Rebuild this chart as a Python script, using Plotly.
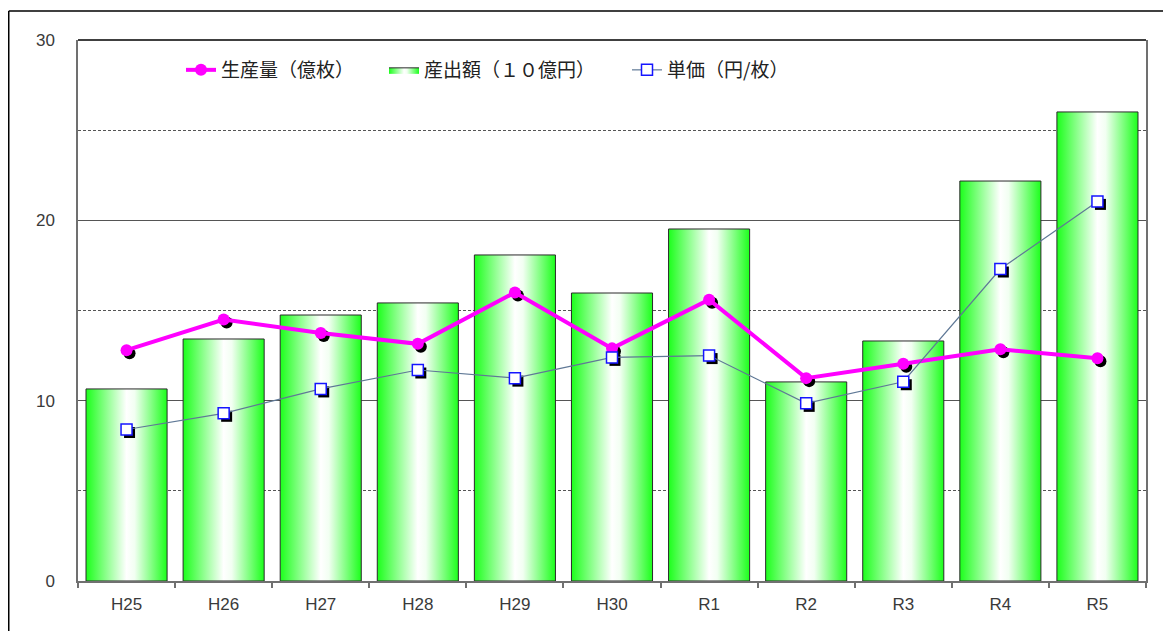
import plotly.graph_objects as go

categories = ["H25", "H26", "H27", "H28", "H29", "H30", "R1", "R2", "R3", "R4", "R5"]
production = [12.8, 14.5, 13.75, 13.15, 16.0, 12.9, 15.6, 11.25, 12.05, 12.85, 12.35]   # 生産量(億枚)
output_value = [10.65, 13.42, 14.75, 15.42, 18.08, 15.97, 19.52, 11.04, 13.31, 22.18, 26.01]  # 産出額(10億円)
unit_price = [8.4, 9.3, 10.65, 11.7, 11.25, 12.4, 12.5, 9.85, 11.05, 17.3, 21.05]  # 単価(円/枚)
y_ticks = [0, 10, 20, 30]

# page body has an 8px margin; figure fills the rest of the window
W, H = 1163, 623
ML, MR, MT, MB = 70, 25, 32, 50
pw, ph = W - ML - MR, H - MT - MB
xr = [-0.5, len(categories) - 0.5]
yr = [0, 30]
# shadow offsets (3px) converted to data units
sdx = 3 * (xr[1] - xr[0]) / pw
sdy = 3 * (yr[1] - yr[0]) / ph

bar_w = 0.835
grad = [[0, "#1cff1c"], [0.5, "#ffffff"], [0.6, "#f2fff2"], [1, "#1cff1c"]]
font = "Noto Sans CJK JP"
tick_font = "Liberation Sans"


def px_x(px):
    return (px - ML) / pw


def px_y(py):
    return (H - MB - py) / ph


fig = go.Figure()
xs_idx = list(range(len(categories)))

for i, v in enumerate(output_value):
    x0, x1 = i - bar_w / 2, i + bar_w / 2
    fig.add_trace(go.Scatter(
        x=[x0, x1, x1, x0, x0], y=[0, 0, v, v, 0],
        fill="toself", mode="lines",
        line=dict(color="#2a2a2a", width=1),
        fillgradient=dict(type="horizontal", colorscale=grad),
        name="産出額（１０億円）", legendgroup="bar", showlegend=(i == 0),
        legend="legend2", hoverinfo="skip"))

# production: shadow then series
fig.add_trace(go.Scatter(
    x=[x + sdx for x in xs_idx], y=[v - sdy for v in production], mode="markers",
    marker=dict(symbol="circle", size=12, color="black"), showlegend=False, hoverinfo="skip"))
fig.add_trace(go.Scatter(
    x=xs_idx, y=production, mode="lines+markers", name="生産量（億枚）",
    line=dict(color="#ff00ff", width=4),
    marker=dict(symbol="circle", size=12, color="#ff00ff"), legend="legend"))

# unit price: shadow then series
fig.add_trace(go.Scatter(
    x=[x + sdx for x in xs_idx], y=[v - sdy for v in unit_price], mode="markers",
    marker=dict(symbol="square", size=11, color="black"), showlegend=False, hoverinfo="skip"))
fig.add_trace(go.Scatter(
    x=xs_idx, y=unit_price, mode="lines+markers", name="単価（円/枚）",
    line=dict(color="#5f7896", width=1.2),
    marker=dict(symbol="square", size=11, color="white", line=dict(color="#1515ff", width=1.5)),
    legend="legend3"))

leg_common = dict(orientation="h", xanchor="left", yanchor="middle", bgcolor="rgba(0,0,0,0)",
                  font=dict(size=19, family=font, color="#222"), itemwidth=30)
leg_y = px_y(62)

fig.update_layout(
    width=W, height=H,
    margin=dict(l=ML, r=MR, t=MT, b=MB, autoexpand=False),
    paper_bgcolor="white", plot_bgcolor="white",
    font=dict(family=font, color="#222"),
    legend=dict(leg_common, x=px_x(173), y=leg_y),
    legend2=dict(leg_common, x=px_x(376), y=leg_y),
    legend3=dict(leg_common, x=px_x(619), y=leg_y),
    xaxis=dict(range=xr, tickmode="array", tickvals=xs_idx, ticktext=categories,
               ticks="", showgrid=False, zeroline=False,
               showline=True, linecolor="#707070", linewidth=1.5,
               tickfont=dict(size=17, family=tick_font, color="#3a3a3a"), ticklabelstandoff=7,
               minor=dict(tickmode="array", tickvals=[i - 0.5 for i in range(len(categories) + 1)],
                          ticks="outside", ticklen=5, tickcolor="#707070", tickwidth=1.5)),
    yaxis=dict(range=yr, tickmode="array", tickvals=y_ticks, ticks="",
               showgrid=True, gridcolor="#555555", gridwidth=1, zeroline=False,
               showline=True, linecolor="#707070", linewidth=1.5, mirror=True,
               tickfont=dict(size=17, family=tick_font, color="#3a3a3a"), ticklabelstandoff=18,
               minor=dict(dtick=5, tick0=0, showgrid=True, gridcolor="#555555",
                          griddash="3px,2px", gridwidth=1)),
    showlegend=True,
)

# plot-area top border (black) and outer chart frame
fig.add_shape(type="line", xref="paper", yref="paper", x0=0, x1=1, y0=1, y1=1,
              line=dict(color="black", width=1.5))
fx0 = px_x(0.75)
fy1 = px_y(3)
fig.add_shape(type="line", xref="paper", yref="paper", x0=fx0, x1=px_x(W), y0=fy1, y1=fy1,
              line=dict(color="black", width=1.5))
fig.add_shape(type="line", xref="paper", yref="paper", x0=fx0, x1=fx0, y0=fy1, y1=px_y(H),
              line=dict(color="black", width=1.5))

fig.write_html("out.html")
